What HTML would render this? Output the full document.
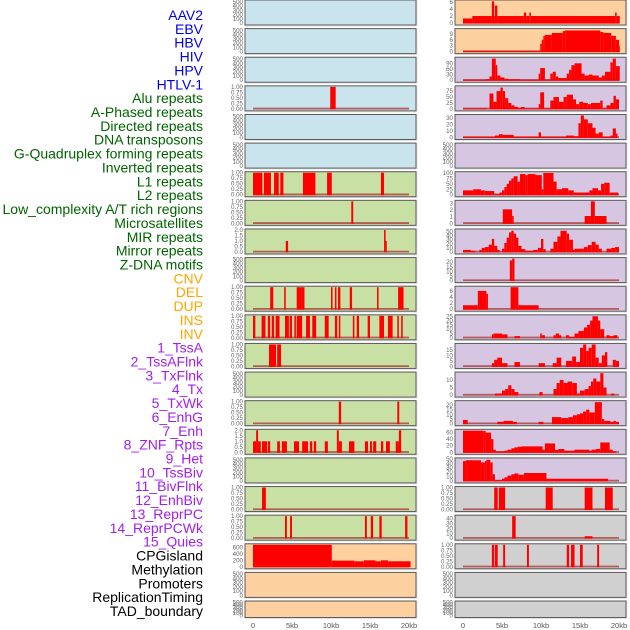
<!DOCTYPE html>
<html><head><meta charset="utf-8">
<style>
html,body{margin:0;padding:0;background:#fff;width:630px;height:630px;overflow:hidden}
svg{display:block}
</style></head>
<body>
<svg id="chart" width="630" height="630" viewBox="0 0 630 630" xmlns="http://www.w3.org/2000/svg" font-family="Liberation Sans, sans-serif">
<g id="labels"></g>
<g id="panels"></g>
<g id="xaxis"></g>
</svg>
<script>
// ---- track labels ----
const trackLabels = ["AAV2","EBV","HBV","HIV","HPV","HTLV-1","Alu repeats","A-Phased repeats","Directed repeats","DNA transposons","G-Quadruplex forming repeats","Inverted repeats","L1 repeats","L2 repeats","Low_complexity A/T rich regions","Microsatellites","MIR repeats","Mirror repeats","Z-DNA motifs","CNV","DEL","DUP","INS","INV","1_TssA","2_TssAFlnk","3_TxFlnk","4_Tx","5_TxWk","6_EnhG","7_Enh","8_ZNF_Rpts","9_Het","10_TssBiv","11_BivFlnk","12_EnhBiv","13_ReprPC","14_ReprPCWk","15_Quies","CPGisland","Methylation","Promoters","ReplicationTiming","TAD_boundary"];
const labelGroups = ["v","v","v","v","v","v","r","r","r","r","r","r","r","r","r","r","r","r","r","c","c","c","c","c","s","s","s","s","s","s","s","s","s","s","s","s","s","s","s","o","o","o","o","o"];
const xTickValues = [0,5,10,15,20];
const xTickLabels = ["0","5kb","10kb","15kb","20kb"];

// ---- tick sets ----
const ticksEmpty = [0,100,200,300,400,500];
const ticksFrac = [0,0.25,0.5,0.75,1];
const ticksTwo = [0,0.5,1,1.5,2];

// ---- left column data: [startKb, endKb, value] ----
const L_alu = [[9.9,10.6,1]];
const L_l1 = [[0,1.2,1],[1.4,2.3,1],[2.7,3.3,1],[3.5,3.9,1],[6.4,8.0,1],[9.5,10.1,1],[16.4,16.8,1]];
const L_l2 = [[12.6,12.85,1]];
const L_mir = [[4.2,4.5,1],[16.8,17.0,2],[17.0,17.15,1]];
const L_cnv = [[2.2,2.6,1],[4.0,4.2,1],[5.6,6.2,1],[6.2,6.6,1],[10.0,10.2,1],[10.5,10.7,1],[10.9,11.2,1],[12.4,12.7,1],[15.9,16.1,1],[18.6,19.3,1]];
const L_del = [[0,0.3,1],[1.1,1.6,1],[1.9,2.2,1],[2.4,2.7,1],[2.9,3.4,1],[4.1,4.6,1],[4.7,5.0,1],[5.3,5.5,1],[5.6,6.3,1],[6.8,7.3,1],[7.6,8.1,1],[9.2,9.7,1],[10.5,10.8,1],[11.0,11.2,1],[12.8,13.0,1],[13.3,13.6,1],[14.7,15.0,1],[16.2,16.8,1],[17.3,17.9,1],[18.5,18.7,1],[19.0,19.2,1]];
const L_tssa = [[2.05,2.95,1],[3.1,3.6,1]];
const L_tx = [[11.0,11.3,1],[18.5,18.75,1]];
const L_enh = [[0,0.4,1],[0.4,0.65,2],[0.65,1.0,1],[1.15,1.8,1],[1.9,2.2,1],[3.1,3.45,1],[3.7,4.35,1],[5.25,5.9,1],[6.3,7.05,1],[7.3,7.6,1],[7.8,8.1,1],[9.2,9.6,1],[10.75,11.0,2],[11.0,11.4,1],[12.3,13.0,1],[14.35,14.75,1],[15.0,15.25,1],[15.4,15.8,1],[16.4,16.7,1],[17.05,17.55,1],[18.3,18.7,1],[18.7,19.0,2]];
const L_bivflnk = [[1.15,1.65,1]];
const L_reprpc = [[4.1,4.35,1],[4.75,5.0,1],[14.35,14.6,1],[15.1,15.4,1],[16.2,16.5,1],[19.5,19.8,1]];
const L_cpg = [[0,10.1,680],[10.1,13.0,190],[13.0,14.2,170],[14.2,15.7,200],[15.7,16.4,170],[16.4,17.3,200],[17.3,20.2,170]];

// ---- right column data ----
const R_aav2 = [[0,1.2,1.3],[1.2,3.7,2],[3.7,4.0,6.2],[4.0,4.1,2],[4.1,4.4,5],[4.4,7.8,2],[7.8,8.1,3],[8.1,8.5,2],[8.5,8.7,3],[8.7,19.5,2],[19.5,19.7,3],[19.7,20.1,2]];
const R_ebv = [[0,9.9,0.3],[9.9,10.1,4],[10.1,10.3,6],[10.3,10.5,8],[10.5,11.4,8.5],[11.4,12.8,9.5],[12.8,13.1,10.5],[13.1,17.6,10.8],[17.6,18.0,10],[18.0,19.0,9.5],[19.0,19.6,8],[19.6,20.0,6],[20.0,20.1,3]];
const R_hiv = [[0,2.9,2],[2.9,3.4,5],[3.4,3.7,20],[3.7,4.2,115],[4.2,4.4,80],[4.4,4.8,25],[4.8,5.3,15],[5.3,5.8,8],[5.8,7.3,5],[7.3,9.7,2],[9.7,9.9,35],[9.9,10.5,65],[10.5,11.2,3],[11.2,11.5,35],[11.5,11.9,45],[11.9,12.2,20],[12.2,13.3,12],[13.3,13.6,35],[13.6,13.9,55],[13.9,14.3,80],[14.3,15.2,90],[15.2,15.6,35],[15.6,16.1,25],[16.1,16.6,30],[16.6,17.4,25],[17.4,17.8,15],[17.8,18.2,25],[18.2,18.9,45],[18.9,19.2,95],[19.2,19.6,115],[19.6,20.1,75]];
const R_hpv = [[0,3.1,2],[3.4,3.9,65],[3.9,4.3,30],[4.3,4.8,75],[4.8,5.1,90],[5.1,5.4,75],[5.4,5.8,45],[5.8,6.2,25],[6.2,6.6,15],[6.6,7.1,8],[7.1,7.4,3],[7.4,7.9,8],[7.9,9.7,2],[9.7,9.9,20],[9.9,10.4,70],[10.4,11.2,2],[11.2,11.6,35],[11.6,12.3,50],[12.3,12.9,30],[12.9,13.3,50],[13.3,14.1,60],[14.1,14.5,40],[14.5,14.9,20],[14.9,15.4,30],[15.4,16.0,25],[16.0,16.4,20],[16.4,17.6,25],[17.6,17.9,35],[17.9,18.4,2],[18.4,18.9,15],[18.9,19.3,25],[19.3,19.6,55],[19.6,20.0,40]];
const R_htlv = [[0,4.1,1],[4.1,4.6,3],[4.6,5.1,5],[5.1,6.5,4],[6.5,9.7,1],[9.7,10.0,8],[10.0,13.2,1],[13.2,14.2,3],[14.2,14.8,2],[14.8,15.1,22],[15.1,15.5,34],[15.5,16.0,28],[16.0,16.6,22],[16.6,17.0,15],[17.0,17.4,6],[17.4,17.9,8],[17.9,18.9,1],[18.9,19.2,3],[19.2,19.6,14],[19.6,19.8,6]];
const R_l1 = [[0,1.3,20],[1.3,2.3,25],[2.3,2.8,20],[2.8,4.0,17],[4.0,4.7,3],[4.7,5.0,10],[5.0,5.3,20],[5.3,5.6,35],[5.6,5.9,50],[5.9,6.2,65],[6.2,6.5,75],[6.5,7.0,85],[7.0,7.3,60],[7.3,8.0,95],[8.0,8.3,90],[8.3,9.3,95],[9.3,10.1,90],[10.1,10.3,25],[10.3,11.6,100],[11.6,12.0,60],[12.0,12.7,25],[12.7,13.5,30],[13.5,14.2,20],[14.2,16.2,10],[16.2,16.6,20],[16.6,17.3,30],[17.3,17.7,20],[17.7,18.1,50],[18.1,18.8,55],[18.8,19.9,10]];
const R_l2 = [[5.1,6.3,2.1],[6.3,6.5,1.1],[15.6,16.4,1.1],[16.4,16.9,3.3],[16.9,18.4,1.1]];
const R_low = [[0,1.0,5],[1.0,1.6,3],[2.1,2.4,5],[2.4,2.8,10],[2.8,3.3,12],[3.3,3.7,18],[3.7,4.0,32],[4.0,4.4,15],[4.4,4.7,5],[5.0,5.3,8],[5.3,5.6,22],[5.6,5.9,35],[5.9,6.2,48],[6.2,6.5,52],[6.5,6.8,45],[6.8,7.1,35],[7.1,7.5,15],[7.5,8.0,7],[8.0,9.0,3],[9.0,9.6,5],[9.6,10.0,10],[10.0,10.3,32],[10.3,10.6,7],[11.2,11.6,8],[11.6,12.1,25],[12.1,12.5,38],[12.5,13.3,52],[13.3,13.6,45],[13.6,14.1,30],[14.1,14.3,5],[14.3,15.5,8],[15.5,16.0,12],[16.0,16.5,17],[16.5,17.0,25],[17.0,17.4,18],[17.4,17.8,8],[18.4,19.0,8],[19.0,19.5,10],[19.5,20.0,12]];
const R_micro = [[6.0,6.3,22],[6.3,6.6,24]];
const R_mir = [[0,1.9,1.3],[1.9,3.0,6],[3.0,3.2,5],[6.1,7.1,7.2],[7.1,9.7,1.3]];
const R_mirror = [[3.7,3.9,4],[3.9,5.0,5],[5.0,5.7,4],[6.6,7.3,2],[9.9,10.1,5],[10.1,10.5,3],[11.6,11.9,3],[11.9,12.3,5],[12.3,12.6,3],[13.2,13.6,3],[13.6,14.3,1],[14.3,14.8,5],[14.8,15.5,8],[15.5,15.9,12],[15.9,16.3,15],[16.3,16.6,20],[16.6,17.3,25],[17.3,17.6,20],[17.6,18.1,10],[18.4,18.8,3],[18.8,19.3,2],[19.3,19.8,3]];
const R_zdna = [[3.7,4.0,3],[4.0,4.4,6],[4.4,5.0,8],[5.0,5.7,3],[6.6,7.3,4],[9.7,10.5,3],[11.5,12.0,3],[12.0,12.6,8],[13.2,14.0,5],[14.0,14.5,9],[14.5,15.0,4],[15.0,15.4,17],[15.4,15.8,20],[15.8,16.1,14],[16.1,16.5,17],[16.5,17.0,20],[17.0,17.4,8],[17.4,17.8,3],[17.8,18.2,10],[18.2,18.5,13],[19.2,19.6,6],[19.6,20.0,5]];
const R_cnv = [[4.1,5.0,1],[5.0,5.4,3],[5.4,5.8,4],[5.8,6.2,6.5],[6.2,6.6,4],[6.6,7.1,2],[9.8,10.2,2],[11.6,12.0,4],[12.0,12.4,8],[12.4,12.9,10],[12.9,13.4,8],[13.4,14.0,9],[14.0,14.6,8],[14.6,15.0,1],[15.0,15.6,3],[15.6,16.1,4],[16.1,16.4,6],[16.4,16.7,9],[16.7,17.1,11],[17.1,17.6,9],[17.6,18.0,14.5],[18.0,18.4,5],[19.0,19.4,1]];
const R_del = [[0,0.6,4],[4.4,5.2,2],[5.2,6.4,3],[6.4,6.9,2],[9.7,10.3,2],[11.4,12.6,7],[12.6,13.5,6],[13.5,14.1,7],[14.1,14.6,9],[14.6,15.0,10],[15.0,15.4,11],[15.4,15.8,13],[15.8,16.2,15],[16.2,16.9,12],[16.9,17.8,23],[17.8,18.1,5],[18.1,18.9,3],[18.9,19.3,2],[19.3,19.6,3],[19.6,20.0,2]];
const R_dup = [[0,2.6,66],[2.6,2.9,65],[2.9,3.6,60],[3.6,3.9,40],[3.9,4.2,8],[4.2,5.3,3],[5.3,5.7,5],[5.7,6.2,8],[6.2,6.6,12],[6.6,7.0,15],[7.0,7.5,17],[7.5,10.2,18],[10.2,10.5,8],[10.5,11.8,27],[11.8,12.2,7],[12.2,13.0,10],[13.0,14.3,5],[14.3,16.2,8],[16.2,16.5,5],[16.5,17.0,8],[17.0,17.6,10],[17.6,18.8,30],[18.8,19.2,8],[19.2,19.6,3]];
const R_ins = [[0,0.4,45],[0.4,2.3,47],[2.3,2.8,42],[2.8,3.0,45],[3.0,3.5,48],[3.5,3.8,42],[3.8,4.1,15],[4.1,5.0,2],[5.0,5.3,5],[5.3,5.7,8],[5.7,6.2,12],[6.2,6.6,15],[6.6,7.1,17],[7.1,7.8,14],[7.8,10.7,18],[10.7,18.6,5]];
const R_inv = [[4.0,4.45,1],[4.6,5.4,1],[10.6,11.5,1],[15.6,16.6,1],[18.2,19.2,1]];
const R_tssa = [[6.3,6.75,45],[15.6,16.6,4]];
const R_tssflnk = [[3.7,4.0,1],[4.1,4.45,1],[5.15,5.4,1],[8.2,8.45,1],[13.3,13.6,1],[13.85,14.3,1],[15.0,15.35,1],[17.2,17.45,1]];

// per-panel settings (column, row, bg, yMax, ticks, data)
const panelSpecs = [
 ["L",0,"#c9e4ec",520,ticksEmpty,null],["L",1,"#c9e4ec",520,ticksEmpty,null],["L",2,"#c9e4ec",520,ticksEmpty,null],
 ["L",3,"#c9e4ec",1,ticksFrac,L_alu],["L",4,"#c9e4ec",520,ticksEmpty,null],["L",5,"#c9e4ec",520,ticksEmpty,null],
 ["L",6,"#c8e0a4",1,ticksFrac,L_l1],["L",7,"#c8e0a4",1,ticksFrac,L_l2],["L",8,"#c8e0a4",2,ticksTwo,L_mir],
 ["L",9,"#c8e0a4",520,ticksEmpty,null],["L",10,"#c8e0a4",1,ticksFrac,L_cnv],["L",11,"#c8e0a4",1,ticksFrac,L_del],
 ["L",12,"#c8e0a4",1,ticksFrac,L_tssa],["L",13,"#c8e0a4",520,ticksEmpty,null],["L",14,"#c8e0a4",1,ticksFrac,L_tx],
 ["L",15,"#c8e0a4",2,ticksTwo,L_enh],["L",16,"#c8e0a4",520,ticksEmpty,null],["L",17,"#c8e0a4",1,ticksFrac,L_bivflnk],
 ["L",18,"#c8e0a4",1,ticksFrac,L_reprpc],["L",19,"#fdd09f",680,[0,200,400,600],L_cpg],
 ["L",20,"#fdd09f",520,ticksEmpty,null],["L",21,"#fdd09f",520,ticksEmpty,null],
 ["R",0,"#fdd09f",6.3,[0,2,4,6],R_aav2],["R",1,"#fdd09f",11.2,[0,3,6,9],R_ebv],["R",2,"#d6c6e1",117,[0,30,60,90],R_hiv],
 ["R",3,"#d6c6e1",93,[0,25,50,75],R_hpv],["R",4,"#d6c6e1",34,[0,10,20,30],R_htlv],["R",5,"#d6c6e1",520,ticksEmpty,null],
 ["R",6,"#d6c6e1",101,[0,25,50,75,100],R_l1],["R",7,"#d6c6e1",3.3,[0,1,2,3],R_l2],["R",8,"#d6c6e1",54,[0,10,20,30,40,50],R_low],
 ["R",9,"#d6c6e1",24,[0,5,10,15,20],R_micro],["R",10,"#d6c6e1",7.2,[0,2,4,6],R_mir],["R",11,"#d6c6e1",25.5,[0,5,10,15,20,25],R_mirror],
 ["R",12,"#d6c6e1",20,[0,5,10,15],R_zdna],["R",13,"#d6c6e1",14.6,[0,5,10],R_cnv],["R",14,"#d6c6e1",23.5,[0,5,10,15,20],R_del],
 ["R",15,"#d6c6e1",67,[0,20,40,60],R_dup],["R",16,"#d6c6e1",50,[0,10,20,30,40,50],R_ins],["R",17,"#d0d0d0",1,ticksFrac,R_inv],
 ["R",18,"#d0d0d0",45,[0,10,20,30,40],R_tssa],["R",19,"#d0d0d0",1,ticksFrac,R_tssflnk],
 ["R",20,"#d0d0d0",520,ticksEmpty,null],["R",21,"#d0d0d0",520,ticksEmpty,null]
];

const NS = "http://www.w3.org/2000/svg";
const colX = {L:245, R:455};
const panelW = 171;
const kbPx = 7.8;
function xScale(col, kb){ return colX[col] + 8 + kb*kbPx; }
function rowTop(r){ return r*28.62; }
function rowH(r){ return r===21 ? 16.5 : 25; }
function yScale(r, ymax, v){ const t=rowTop(r), h=rowH(r); return t+1+(h-3)*(1-v/ymax); }
function mk(tag, attrs, parent){ const e=document.createElementNS(NS,tag); for(const k in attrs) e.setAttribute(k,attrs[k]); parent.appendChild(e); return e; }

const groupColor = {v:"#0000ee", r:"#006400", c:"#ffa500", s:"#a020f0", o:"#000000"};
const labelsG = document.getElementById("labels");
trackLabels.forEach((t,i)=>{
  const el = mk("text",{x:203,y:15+i*13.86+5,"text-anchor":"end","font-size":"14",fill:groupColor[labelGroups[i]]},labelsG);
  
  
  el.textContent = t;
});

const panelsG = document.getElementById("panels");
panelSpecs.forEach(spec=>{
  const [col,r,bg,ymax,ticks,data] = spec;
  const g = mk("g",{},panelsG);
  
  
  const t=rowTop(r), h=rowH(r), x0=colX[col];
  mk("rect",{x:x0-0.5,y:t-0.5,width:panelW+2,height:h+2,fill:"#e6e6e6"},g);
  const bgRect = mk("rect",{x:x0,y:t,width:panelW,height:h,fill:bg,stroke:"#5a5a5a","stroke-width":1},g);
  
  
  ticks.forEach(v=>{
    const lab = (ticks===ticksFrac ? v.toFixed(2) : (ticks===ticksTwo ? v.toFixed(1) : String(v)));
    const tx = mk("text",{x:x0-2,y:yScale(r,ymax,v)+2,"text-anchor":"end","font-size":"6.2",fill:"#666"},g);
    
    
    tx.textContent = lab;
  });
  if(data){
    const base = mk("line",{x1:xScale(col,0),x2:xScale(col,20),y1:yScale(r,ymax,0)-0.3,y2:yScale(r,ymax,0)-0.3,stroke:"#b04545","stroke-width":1.8,opacity:0.85},g);
    
    
    data.forEach(d=>{
      const [s,e,v]=d;
      const yv=yScale(r,ymax,Math.min(v,ymax)), y0=yScale(r,ymax,0);
      const b = mk("rect",{x:xScale(col,s),y:yv,width:Math.max(0.8,(e-s)*kbPx),height:Math.max(0,y0-yv+0.5),fill:"#ff0000"},g);
      
      
    });
  }
});

const xg = document.getElementById("xaxis");
["L","R"].forEach(col=>{
  xTickValues.forEach((v,i)=>{
    const tx = mk("text",{x:xScale(col,v),y:628,"text-anchor":"middle","font-size":"7.5",fill:"#555"},xg);
    
    
    tx.textContent = xTickLabels[i];
  });
});
</script>
</body></html>
